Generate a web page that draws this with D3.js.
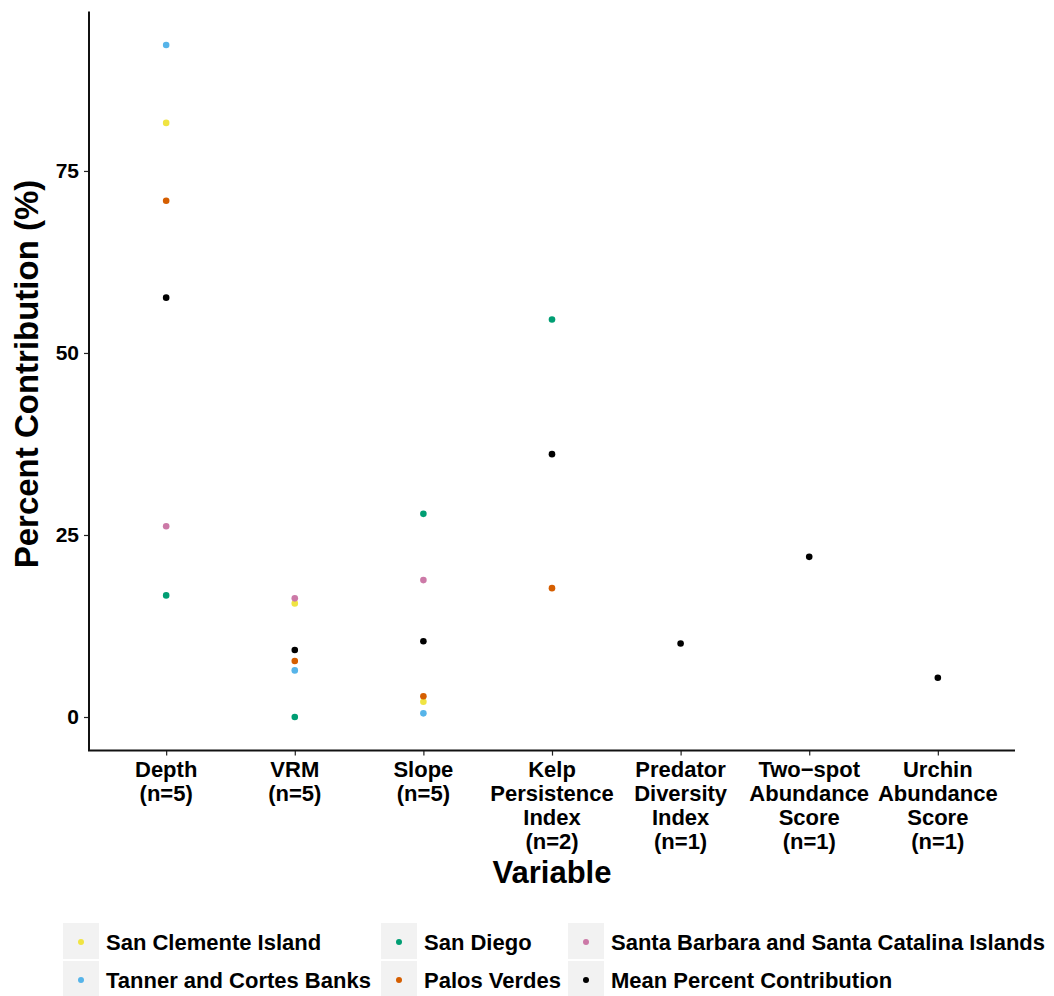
<!DOCTYPE html>
<html><head><meta charset="utf-8">
<script src="https://cdn.jsdelivr.net/npm/d3@7"></script>
<style>body{margin:0;background:#fff}svg{display:block}text{font-family:"Liberation Sans",Arial,sans-serif;font-weight:bold}</style>
</head><body>
<svg id="c" width="1054" height="996"></svg>
<script>
const categories = [
  ["Depth","(n=5)"],
  ["VRM","(n=5)"],
  ["Slope","(n=5)"],
  ["Kelp","Persistence","Index","(n=2)"],
  ["Predator","Diversity","Index","(n=1)"],
  ["Two\u2212spot","Abundance","Score","(n=1)"],
  ["Urchin","Abundance","Score","(n=1)"]
];
const seriesNames = ["San Clemente Island","Tanner and Cortes Banks","San Diego","Palos Verdes","Santa Barbara and Santa Catalina Islands","Mean Percent Contribution"];
const colors = ["#F0E442","#56B4E9","#009E73","#D55E00","#CC79A7","#000000"];
const sanClemente = [81.6, 15.6, 2.1, null, null, null, null];
const tannerCortes = [92.3, 6.4, 0.5, null, null, null, null];
const sanDiego = [16.7, 0.0, 27.9, 54.6, null, null, null];
const palosVerdes = [70.9, 7.7, 2.85, 17.7, null, null, null];
const santaBarbara = [26.2, 16.3, 18.8, null, null, null, null];
const meanContribution = [57.6, 9.2, 10.4, 36.1, 10.1, 22.0, 5.4];
const yTicks = [0, 25, 50, 75];
const seriesValues = [sanClemente, tannerCortes, sanDiego, palosVerdes, santaBarbara, meanContribution];

const svg = d3.select("#c");
const L = 89, R = 1015, T = 11.4, B = 750.6;
const all = seriesValues.flat().filter(v => v != null);
const mn = d3.min(all), mx = d3.max(all), ex = (mx - mn) * 0.05;
const y = d3.scaleLinear().domain([mn - ex, mx + ex]).range([B, T]);
const x = d3.scalePoint().domain(d3.range(categories.length)).range([L, R]).padding(0.6);

// y axis
const ya = svg.append("g").attr("transform", `translate(${L},0)`)
  .call(d3.axisLeft(y).tickValues(yTicks).tickSize(5).tickPadding(5));
ya.select(".domain").remove();
ya.selectAll(".tick line").attr("stroke", "#222").attr("stroke-width", 1.2);
ya.selectAll(".tick text").attr("font-size", 21).attr("fill", "#000").attr("font-family", "Liberation Sans, Arial, sans-serif").attr("font-weight", "bold");

// x axis
const xa = svg.append("g").attr("transform", `translate(0,${B})`)
  .call(d3.axisBottom(x).tickSize(5).tickFormat(""));
xa.select(".domain").remove();
xa.selectAll(".tick line").attr("stroke", "#222").attr("stroke-width", 1.2);
categories.forEach((lines, i) => {
  const t = svg.append("text").attr("x", x(i)).attr("y", 777).attr("text-anchor", "middle")
    .attr("font-size", 22).attr("fill", "#000");
  lines.forEach((ln, j) => t.append("tspan").attr("x", x(i)).attr("dy", j === 0 ? 0 : 24).text(ln));
});

svg.append("path").attr("d", `M${L},${T}V${B}H${R}`).attr("fill", "none").attr("stroke", "#111").attr("stroke-width", 2);

// points
seriesValues.forEach((vals, s) => {
  svg.append("g").selectAll("circle").data(vals.map((v, i) => ({v, i})).filter(d => d.v != null))
    .join("circle").attr("cx", d => x(d.i)).attr("cy", d => y(d.v)).attr("r", 3.3).attr("fill", colors[s]);
});

// titles
svg.append("text").attr("transform", `translate(38,374) rotate(-90)`).attr("text-anchor", "middle")
  .attr("font-size", 33).text("Percent Contribution (%)");
svg.append("text").attr("x", (L + R) / 2).attr("y", 883).attr("text-anchor", "middle")
  .attr("font-size", 31).text("Variable");

// legend
const legCols = [63, 381, 568];
const legRows = [923, 961];
const legOrder = [[0, 0, 0], [1, 0, 1], [2, 1, 0], [3, 1, 1], [4, 2, 0], [5, 2, 1]];
legOrder.forEach(([s, c, r]) => {
  const g = svg.append("g").attr("transform", `translate(${legCols[c]},${legRows[r]})`);
  g.append("rect").attr("width", 36).attr("height", 36).attr("fill", "#f2f2f2");
  g.append("circle").attr("cx", 18).attr("cy", 19).attr("r", 3).attr("fill", colors[s]);
  g.append("text").attr("x", 43).attr("y", 27).attr("font-size", 22).text(seriesNames[s]);
});
</script>
</body></html>
